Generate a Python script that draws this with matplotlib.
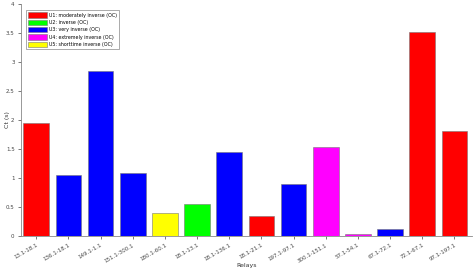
import matplotlib.pyplot as plt
import matplotlib.patches as mpatches
import numpy as np

# relay pairs and their operating times
relays = ['13.1-18.1', '136.1-18.1', '149.1-1.1', '151.1-300.1', '180.1-60.1',
          '18.1-13.1', '18.1-136.1', '18.1-21.1', '197.1-97.1', '300.1-151.1',
          '57.1-54.1', '67.1-72.1', '72.1-67.1', '97.1-197.1']
ct = [1.95, 1.05, 2.85, 1.09, 0.40, 0.56, 1.45, 0.34, 0.90, 1.53, 0.03, 0.12, 3.52, 1.81]
curve = ['U1', 'U3', 'U3', 'U3', 'U5', 'U2', 'U3', 'U1', 'U3', 'U4', 'U4', 'U3', 'U1', 'U1']

curve_names = ['U1: moderately inverse (OC)', 'U2: inverse (OC)', 'U3: very inverse (OC)',
               'U4: extremely inverse (OC)', 'U5: shorttime inverse (OC)']
curve_colors = {'U1': '#ff0000', 'U2': '#00ff00', 'U3': '#0000ff', 'U4': '#ff00ff', 'U5': '#ffff00'}

fig = plt.figure(figsize=(4.74, 2.71), dpi=100)
ax = fig.add_axes([0.044, 0.129, 0.952, 0.856])

x = np.arange(1, len(relays) + 1)
cols = [curve_colors[c] for c in curve]
ax.bar(x, ct, width=0.8, color=cols, edgecolor='#777777', linewidth=0.4)

ax.set_xlim(0.52, 14.55)
ax.set_ylim(0, 4)
ax.set_yticks(np.arange(0, 4.01, 0.5))
ax.set_yticklabels(['0', '0.5', '1', '1.5', '2', '2.5', '3', '3.5', '4'])
ax.set_xticks(x)
ax.set_xticklabels(relays, rotation=30, ha='right', rotation_mode='anchor')
ax.tick_params(labelsize=4, colors='#444444', length=2, width=0.5, pad=2.5)
for s in ['top', 'right']:
    ax.spines[s].set_visible(False)
for s in ['left', 'bottom']:
    ax.spines[s].set_color('#888888')
    ax.spines[s].set_linewidth(0.6)

ax.set_xlabel('Relays', fontsize=4.5, color='#333333')
ax.xaxis.set_label_coords(0.5, -0.115)
ax.set_ylabel('Ct (s)', fontsize=4.5, color='#333333')
ax.yaxis.set_label_coords(-0.025, 0.5)

handles = [mpatches.Patch(facecolor=curve_colors[k], edgecolor='#777777', linewidth=0.4)
           for k in ['U1', 'U2', 'U3', 'U4', 'U5']]
leg = ax.legend(handles, curve_names, loc='upper left', bbox_to_anchor=(0.006, 0.985),
                fontsize=3.4, handlelength=4.0, handleheight=1.4, handletextpad=0.4,
                labelspacing=0.4, borderpad=0.5, fancybox=False, framealpha=1)
leg.get_frame().set_edgecolor('#888888')
leg.get_frame().set_linewidth(0.5)

fig.savefig('out.png', dpi=100)
